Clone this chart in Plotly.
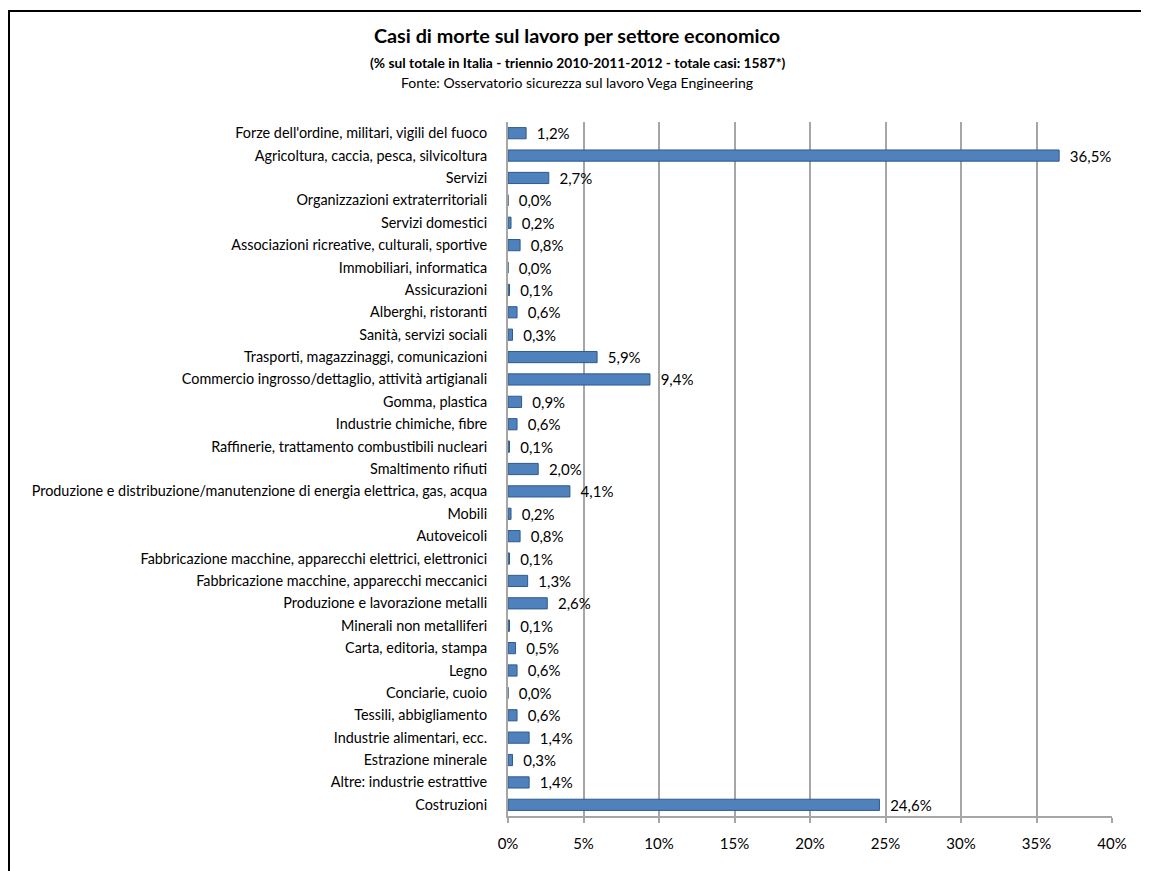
import plotly.graph_objects as go

categories = [
    "Forze dell'ordine, militari, vigili del fuoco",
    "Agricoltura, caccia, pesca, silvicoltura",
    "Servizi",
    "Organizzazioni extraterritoriali",
    "Servizi domestici",
    "Associazioni ricreative, culturali, sportive",
    "Immobiliari, informatica",
    "Assicurazioni",
    "Alberghi, ristoranti",
    "Sanità, servizi sociali",
    "Trasporti, magazzinaggi, comunicazioni",
    "Commercio ingrosso/dettaglio, attività artigianali",
    "Gomma, plastica",
    "Industrie chimiche, fibre",
    "Raffinerie, trattamento combustibili nucleari",
    "Smaltimento rifiuti",
    "Produzione e distribuzione/manutenzione di energia elettrica, gas, acqua",
    "Mobili",
    "Autoveicoli",
    "Fabbricazione macchine, apparecchi elettrici, elettronici",
    "Fabbricazione macchine, apparecchi meccanici",
    "Produzione e lavorazione metalli",
    "Minerali non metalliferi",
    "Carta, editoria, stampa",
    "Legno",
    "Conciarie, cuoio",
    "Tessili, abbigliamento",
    "Industrie alimentari, ecc.",
    "Estrazione minerale",
    "Altre: industrie estrattive",
    "Costruzioni",
]
values = [1.2, 36.5, 2.7, 0.0, 0.2, 0.8, 0.0, 0.1, 0.6, 0.3, 5.9, 9.4, 0.9, 0.6, 0.1,
          2.0, 4.1, 0.2, 0.8, 0.1, 1.3, 2.6, 0.1, 0.5, 0.6, 0.0, 0.6, 1.4, 0.3, 1.4, 24.6]
x_ticks = [0, 5, 10, 15, 20, 25, 30, 35, 40]
x_tick_labels = ["0%", "5%", "10%", "15%", "20%", "25%", "30%", "35%", "40%"]

labels = ["\u00a0\u00a0" + f"{v:.1f}%".replace(".", ",") for v in values]

# page has an 8px body margin; figure sized to fit the window
W, H = 1141, 863
ML, MR, MT, MB = 500, 37, 114, 55
pw, ph = W - ML - MR, H - MT - MB

FONT = "Lato"


def px2paper_x(px):
    return (px - ML) / pw


def px2paper_y(py):
    return (H - MB - py) / ph


fig = go.Figure()
fig.add_trace(go.Bar(
    y=categories, x=values, orientation="h",
    marker=dict(color="#4F81BD", line=dict(color="#2E5A8C", width=1)),
    width=0.5,
    text=labels, textposition="outside", constraintext="none",
    textfont=dict(size=15, color="black", family=FONT),
    cliponaxis=False,
))

fig.update_layout(
    width=W, height=H,
    margin=dict(l=ML, r=MR, t=MT, b=MB),
    paper_bgcolor="white", plot_bgcolor="white",
    showlegend=False,
    font=dict(family=FONT, color="black"),
    xaxis=dict(range=[0, 40], tickvals=x_ticks, ticktext=x_tick_labels,
               showgrid=True, gridcolor="#A6A6A6", gridwidth=2,
               showline=True, linecolor="#A6A6A6", linewidth=2,
               ticks="outside", ticklen=5, tickcolor="#A6A6A6", tickwidth=2,
               ticklabelstandoff=8,
               tickfont=dict(size=15, color="black", family=FONT),
               zeroline=False, fixedrange=True),
    yaxis=dict(autorange="reversed", showgrid=False,
               showline=True, linecolor="#A6A6A6", linewidth=2,
               ticks="", ticklabelstandoff=16,
               tickfont=dict(size=14.4, color="black", family=FONT)),
    bargap=0.5,
    annotations=[
        dict(text="<b>Casi di morte sul lavoro per settore economico</b>",
             x=px2paper_x(569), y=px2paper_y(27), xref="paper", yref="paper",
             xanchor="center", yanchor="middle",
             showarrow=False, font=dict(size=19.8, family=FONT, color="black")),
        dict(text="<b>(% sul totale in Italia - triennio 2010-2011-2012 - totale casi: 1587*)</b>",
             x=px2paper_x(569), y=px2paper_y(55), xref="paper", yref="paper",
             xanchor="center", yanchor="middle",
             showarrow=False, font=dict(size=13.8, family=FONT, color="black")),
        dict(text="Fonte: Osservatorio sicurezza sul lavoro Vega Engineering",
             x=px2paper_x(569), y=px2paper_y(74), xref="paper", yref="paper",
             xanchor="center", yanchor="middle",
             showarrow=False, font=dict(size=14, family=FONT, color="black")),
    ],
    shapes=[
        dict(type="line", xref="paper", yref="paper",
             x0=px2paper_x(0), x1=px2paper_x(W), y0=px2paper_y(3), y1=px2paper_y(3),
             line=dict(color="black", width=2)),
        dict(type="line", xref="paper", yref="paper",
             x0=px2paper_x(1), x1=px2paper_x(1), y0=px2paper_y(2), y1=px2paper_y(H),
             line=dict(color="black", width=2)),
    ],
)

fig.write_html("out.html")
